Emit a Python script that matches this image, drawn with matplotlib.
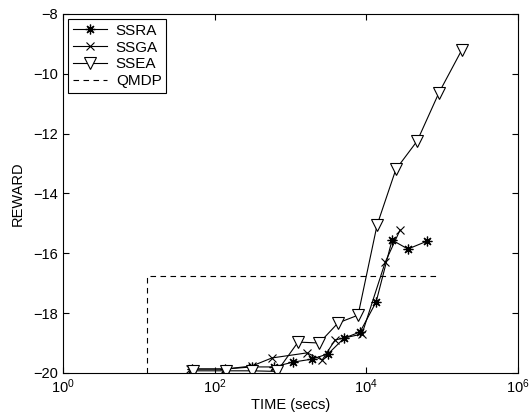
import numpy as np
import matplotlib
matplotlib.use("Agg")
import matplotlib.pyplot as plt

plt.rcParams['font.family'] = ['Liberation Sans', 'DejaVu Sans']
plt.rcParams['mathtext.fontset'] = 'custom'
plt.rcParams['mathtext.rm'] = 'Liberation Sans'
plt.rcParams['mathtext.it'] = 'Liberation Sans'

# values
ssra_t = [50, 138, 310, 600, 1080, 1920, 3150, 5100, 8300, 13500, 21900, 35500, 63000]
ssra_r = [-19.87, -19.87, -19.8, -19.8, -19.64, -19.54, -19.36, -18.84, -18.63,
          -17.63, -15.56, -15.86, -15.6]

ssga_t = [48, 137, 310, 570, 1660, 2620, 3880, 8800, 17800, 28000]
ssga_r = [-19.87, -19.87, -19.77, -19.5, -19.33, -19.57, -18.9, -18.7, -16.3, -15.22]

ssea_t = [52, 141, 310, 665, 1260, 2400, 4250, 7800, 13900, 24600, 47000, 91000, 183000]
ssea_r = [-19.93, -19.93, -19.93, -19.95, -18.97, -19.0, -18.33, -18.07, -15.06,
          -13.2, -12.25, -10.64, -9.2]

qmdp_t = [13, 13, 89000]
qmdp_r = [-20, -16.76, -16.76]

fig = plt.figure(figsize=(5.3, 4.19), dpi=100)
ax = fig.add_axes([0.119, 0.110, 0.858, 0.857])

ax.plot(ssra_t, ssra_r, color='k', lw=0.8, marker=(8, 2, 0), ms=7, mew=0.9, label='SSRA')
ax.plot(ssga_t, ssga_r, color='k', lw=0.8, marker='x', ms=6, mew=0.8, label='SSGA')
ax.plot(ssea_t, ssea_r, color='k', lw=0.8, marker='v', ms=9, mew=0.8,
        mfc='white', label='SSEA')
ax.plot(qmdp_t, qmdp_r, color='k', lw=0.8, linestyle=(0, (5, 4)), label='QMDP')

ax.set_xscale('log')
ax.set_xlim(1, 1e6)
ax.set_ylim(-20, -8)
ax.set_xticks([1, 1e2, 1e4, 1e6])
ax.xaxis.set_minor_locator(matplotlib.ticker.NullLocator())
ax.set_yticks(np.arange(-20, -7, 2))
ax.tick_params(direction='in', top=True, right=True, labelsize=10.5, length=4, width=0.8)
for s in ax.spines.values():
    s.set_linewidth(0.8)

ax.set_xlabel('TIME (secs)', fontsize=10.5, labelpad=1)
ax.set_ylabel('REWARD', fontsize=10.5, labelpad=6)

leg = ax.legend(loc='upper left', fontsize=11, handlelength=2.2, handletextpad=0.6,
                borderaxespad=0.35, labelspacing=0.18, fancybox=False, framealpha=1,
                borderpad=0.3)
leg.get_frame().set_edgecolor('k')
leg.get_frame().set_linewidth(0.8)

fig.savefig('out.png', dpi=100)
